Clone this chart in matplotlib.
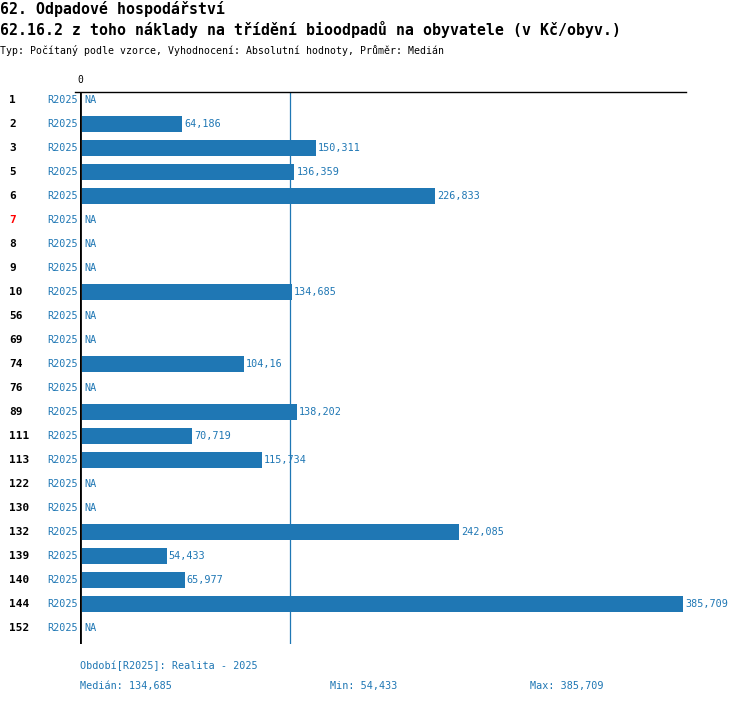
import matplotlib.pyplot as plt

# data
rows = ['1', '2', '3', '5', '6', '7', '8', '9', '10', '56', '69', '74', '76',
        '89', '111', '113', '122', '130', '132', '139', '140', '144', '152']
period = 'R2025'
values = [None, 64.186, 150.311, 136.359, 226.833, None, None, None, 134.685,
          None, None, 104.16, None, 138.202, 70.719, 115.734, None, None,
          242.085, 54.433, 65.977, 385.709, None]
value_labels = [None, '64,186', '150,311', '136,359', '226,833', None, None, None,
                '134,685', None, None, '104,16', None, '138,202', '70,719',
                '115,734', None, None, '242,085', '54,433', '65,977', '385,709', None]
red_rows = ['7']
median = 134.685
min_val = '54,433'
max_val = '385,709'
median_label = '134,685'

W, H = 750, 704
BLUE = '#1f77b4'
MONO = 'DejaVu Sans Mono'

fig = plt.figure(figsize=(W / 100, H / 100), dpi=100)

def fx(px):
    return px / W

def fy(py):
    return 1 - py / H

# axes: left at x=80px, right at 686px, top 92px, bottom 644px
ax_left, ax_right, ax_top, ax_bot = 80, 686, 92, 644
ax = fig.add_axes([fx(ax_left), fy(ax_bot), fx(ax_right - ax_left), (ax_bot - ax_top) / H])
px_per_unit = (681 - 80) / 385.709
ax.set_xlim(0, (ax_right - ax_left) / px_per_unit)
n = len(rows)
ax.set_ylim(n - 1 + 16 / 24, -8 / 24)
ax.axis('off')

ax.axvline(median, color=BLUE, lw=0.9, zorder=1)

for i, v in enumerate(values):
    if v is not None:
        ax.barh(i, v, height=16 / 24, color=BLUE, left=1.2, zorder=2)
        ax.annotate(value_labels[i], (v + 1.2, i), xytext=(1.5, 0), textcoords='offset points',
                    va='center', ha='left', color=BLUE, fontsize=7.3, family=MONO)
    else:
        ax.annotate('NA', (0, i), xytext=(3, 0), textcoords='offset points',
                    va='center', ha='left', color=BLUE, fontsize=7.3, family=MONO)

ax.axvline(0, color='black', lw=2, zorder=3)

# top line
fig.add_artist(plt.Line2D([fx(75), fx(686)], [fy(92), fy(92)], color='black', lw=1))

# row labels
for i, r in enumerate(rows):
    y = fy(100 + 24 * i)
    fig.text(fx(9), y, r, ha='left', va='center', fontsize=8, fontweight='bold',
             family=MONO, color='red' if r in red_rows else 'black')
    fig.text(fx(78), y, period, ha='right', va='center', fontsize=7.3,
             family=MONO, color=BLUE)

fig.text(fx(80), fy(80), '0', ha='center', va='center', fontsize=7, family=MONO)

# titles
fig.text(0, fy(9), '62. Odpadové hospodářství', ha='left', va='center',
         fontsize=10.75, fontweight='bold', family=MONO)
fig.text(0, fy(30), '62.16.2 z toho náklady na třídění bioodpadů na obyvatele (v Kč/obyv.)',
         ha='left', va='center', fontsize=10.75, fontweight='bold', family=MONO)
fig.text(0, fy(50), 'Typ: Počítaný podle vzorce, Vyhodnocení: Absolutní hodnoty, Průměr: Medián',
         ha='left', va='center', fontsize=7.1, family=MONO)

# footer
fig.text(fx(80), fy(666), 'Období[R2025]: Realita - 2025', ha='left', va='center',
         fontsize=7.3, family=MONO, color=BLUE)
fig.text(fx(80), fy(686), 'Medián: ' + median_label, ha='left', va='center',
         fontsize=7.3, family=MONO, color=BLUE)
fig.text(fx(330), fy(686), 'Min: ' + min_val, ha='left', va='center',
         fontsize=7.3, family=MONO, color=BLUE)
fig.text(fx(530), fy(686), 'Max: ' + max_val, ha='left', va='center',
         fontsize=7.3, family=MONO, color=BLUE)

fig.savefig('out.png', dpi=100)
